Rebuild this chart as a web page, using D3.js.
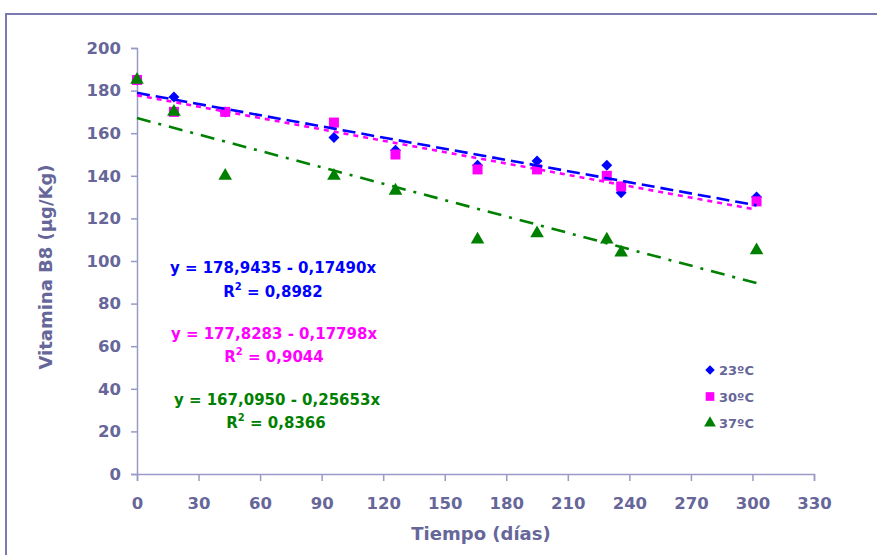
<!DOCTYPE html>
<html>
<head>
<meta charset="utf-8">
<script src="https://cdn.jsdelivr.net/npm/d3@7"></script>
<style>
  body { margin: 0; background: #fff; }
  #chart { width: 877px; height: 555px; }
  text { font-family: "DejaVu Sans", Verdana, sans-serif; font-weight: bold; }
</style>
</head>
<body>
<div id="chart"></div>
<script>
// days of storage
const days = [0, 18, 43, 96, 126, 166, 195, 229, 236, 302];
// vitamin B8 (µg/Kg) per temperature
const v23 = [185, 177, 170, 158, 152, 145, 147, 145, 132, 130];
const v30 = [185, 170, 170, 165, 150, 143, 143, 140, 135, 128];
const v37 = [185, 170, 140, 140, 133, 110, 113, 110, 104, 105];

const seriesNames = ["23ºC", "30ºC", "37ºC"];
const intercepts = [178.9435, 177.8283, 167.0950];
const slopes = [-0.17490, -0.17798, -0.25653];
const eqLabels = ["y = 178,9435 - 0,17490x", "y = 177,8283 - 0,17798x", "y = 167,0950 - 0,25653x"];
const r2Labels = ["0,8982", "0,9044", "0,8366"];

const xTicks = [0, 30, 60, 90, 120, 150, 180, 210, 240, 270, 300, 330];
const yTicks = [0, 20, 40, 60, 80, 100, 120, 140, 160, 180, 200];

const colors = ["#0000ff", "#ff00ff", "#008000"];
const axisColor = "#9a9ac8";
const textColor = "#666699";

const width = 877, height = 555;
const margin = {top: 48, right: 63, bottom: 81, left: 137};

const svg = d3.select("#chart").append("svg")
    .attr("width", width)
    .attr("height", height);

// outer frame, runs off the right and bottom edges
svg.append("rect")
    .attr("x", 6).attr("y", 14)
    .attr("width", 900).attr("height", 600)
    .attr("fill", "none")
    .attr("stroke", "#7a7ab0")
    .attr("stroke-width", 2);

const x = d3.scaleLinear().domain([0, 330]).range([margin.left, width - margin.right]);
const y = d3.scaleLinear().domain([0, 200]).range([height - margin.bottom, margin.top]);

// axes
const xAxis = svg.append("g")
    .attr("transform", "translate(0," + y(0) + ")")
    .call(d3.axisBottom(x).tickValues(xTicks).tickSize(7).tickPadding(16));
const yAxis = svg.append("g")
    .attr("transform", "translate(" + x(0) + ",0)")
    .call(d3.axisLeft(y).tickValues(yTicks).tickSize(6).tickPadding(10));

[xAxis, yAxis].forEach(g => {
    g.select(".domain").attr("stroke", axisColor).attr("stroke-width", 1.5);
    g.selectAll(".tick line").attr("stroke", axisColor).attr("stroke-width", 1.5);
    g.selectAll(".tick text")
        .attr("fill", textColor)
        .style("font-size", "16.5px")
        .style("font-family", "'DejaVu Sans', sans-serif")
        .style("font-weight", "bold");
});

// axis titles
svg.append("text")
    .attr("x", 481).attr("y", 540)
    .attr("text-anchor", "middle")
    .attr("fill", textColor)
    .style("font-size", "18px")
    .text("Tiempo (días)");

svg.append("text")
    .attr("transform", "translate(52,267) rotate(-90)")
    .attr("text-anchor", "middle")
    .attr("fill", textColor)
    .style("font-size", "18px")
    .text("Vitamina B8 (µg/Kg)");

// markers
const diamond = {
    draw(ctx, size) {
        const r = Math.sqrt(size / 2);
        ctx.moveTo(0, -r); ctx.lineTo(r, 0); ctx.lineTo(0, r); ctx.lineTo(-r, 0); ctx.closePath();
    }
};
const symbols = [diamond, d3.symbolSquare, d3.symbolTriangle];
const symbolSizes = [60, 100, 80];
const allValues = [v23, v30, v37];

allValues.forEach((vals, i) => {
    svg.append("g").selectAll("path")
        .data(days.map((d, j) => ({day: d, val: vals[j]})))
        .enter().append("path")
        .attr("d", d3.symbol().type(symbols[i]).size(symbolSizes[i]))
        .attr("transform", d => "translate(" + x(d.day) + "," + y(d.val) + ")")
        .attr("fill", colors[i]);
});

// trend lines
const dashes = ["13,6", "5,5", "14,8,3,8"];
const lineGen = d3.line().x(d => x(d[0])).y(d => y(d[1]));
const xEnd = d3.max(days);

intercepts.forEach((b, i) => {
    const pts = [[0, b], [xEnd, b + slopes[i] * xEnd]];
    svg.append("path")
        .attr("d", lineGen(pts))
        .attr("fill", "none")
        .attr("stroke", colors[i])
        .attr("stroke-width", 2.6)
        .attr("stroke-dasharray", dashes[i]);
});

// regression equations
const eqPos = [[273, 273, 273, 297], [274, 339, 274, 362], [277, 405, 276, 428]];
eqLabels.forEach((t, i) => {
    svg.append("text")
        .attr("x", eqPos[i][0]).attr("y", eqPos[i][1])
        .attr("text-anchor", "middle")
        .attr("fill", colors[i])
        .style("font-size", "15px")
        .text(t);
    const r = svg.append("text")
        .attr("x", eqPos[i][2]).attr("y", eqPos[i][3])
        .attr("text-anchor", "middle")
        .attr("fill", colors[i])
        .style("font-size", "15px");
    r.append("tspan").text("R");
    r.append("tspan").attr("dy", -7).style("font-size", "10px").text("2");
    r.append("tspan").attr("dy", 7).text(" = " + r2Labels[i]);
});

// legend
const legend = svg.append("g").attr("transform", "translate(710,370)");
seriesNames.forEach((name, i) => {
    const row = legend.append("g").attr("transform", "translate(0," + (i * 26.5) + ")");
    row.append("path")
        .attr("d", d3.symbol().type(symbols[i]).size(symbolSizes[i] * 0.75))
        .attr("fill", colors[i]);
    row.append("text")
        .attr("x", 9).attr("y", 5)
        .attr("fill", textColor)
        .style("font-size", "13px")
        .text(name);
});
</script>
</body>
</html>
